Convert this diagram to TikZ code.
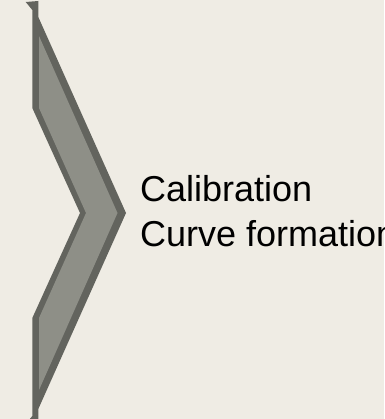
\documentclass[tikz,border=0pt]{standalone}
\usepackage{fontspec}
\setmainfont{Liberation Sans}
\usepackage{tikz}
\usetikzlibrary{positioning,calc}
\definecolor{PaperBeige}{RGB}{239,236,228}
\definecolor{RimGray}{RGB}{99,100,94}
\definecolor{BodyGray}{RGB}{142,143,135}
\tikzset{
  rim/.style={fill=RimGray,draw=none},
  body/.style={fill=BodyGray,draw=none},
  label/.style={anchor=base west,inner sep=0pt,text=black,
    font=\fontsize{36}{44}\selectfont},
}

\begin{document}
\begin{tikzpicture}[x=1pt,y=-1pt]
    \useasboundingbox (0,0) rectangle (384,419);
    \clip (0,0) rectangle (384,419);
    \fill[PaperBeige] (0,0) rectangle (384,419);
    % chevron rim
    \fill[rim] (25.7,2) -- (38.3,1) -- (38.3,17) -- (126,213) -- (38.3,409)
      -- (38.3,425) -- (25.7,424) -- (32.3,416) -- (32.3,318) -- (80,213)
      -- (32.3,108) -- (32.3,10) -- cycle;
    % chevron body
    \fill[body] (39,36) -- (117.5,213) -- (39,390) -- (39,318) -- (86,213)
      -- (39,108) -- cycle;
    \node[label] (cal) at (140,202) {Calibration};
    \node[label] (curve) at (140,246) {Curve formation};
  \end{tikzpicture}
\end{document}
